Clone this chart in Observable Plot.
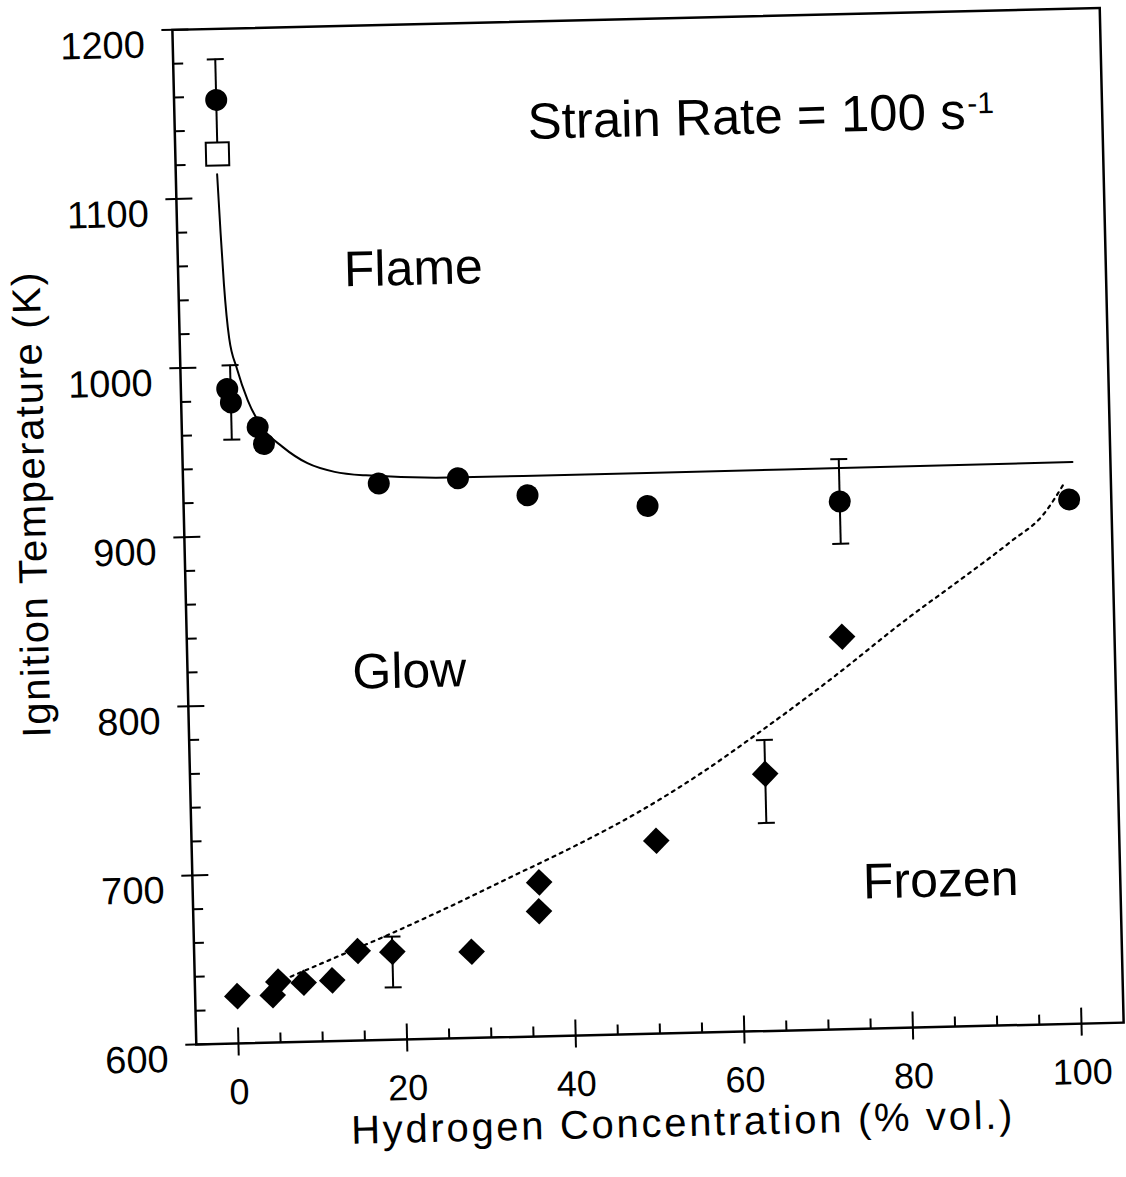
<!DOCTYPE html>
<html>
<head>
<meta charset="utf-8">
<script src="https://cdn.jsdelivr.net/npm/d3@7"></script>
<script src="https://cdn.jsdelivr.net/npm/@observablehq/plot@0.6"></script>
<style>
  html, body { margin: 0; padding: 0; background: #ffffff; }
  #chart svg { display: block; overflow: visible; transform: rotate(-1.35deg); transform-origin: 647.5px 525.75px; }
</style>
</head>
<body>
<div id="chart"></div>
<script>
// ---- data ----
// Flame ignition (filled circles)
const flameX = [0, 0.5, 0.9, 4.0, 4.7, 18.2, 27.6, 35.8, 50, 72.8, 100];
const flameT = [1158, 987, 979, 964, 954, 929, 931, 920, 912, 912, 910];
// Open square
const squareX = [0];
const squareT = [1126];
// Glow ignition (filled diamonds)
const glowX = [0, 4.2, 4.9, 7.9, 11.3, 14.4, 18.5, 27.9, 36.0, 36.1, 50.1, 63.2, 72.7];
const glowT = [628, 628, 636, 635, 636, 653, 652, 651, 674, 691, 714, 752, 832];
// Error bars
const errX = [0, 0.9, 72.8, 18.5, 63.2];
const errLow = [1130, 957, 887, 631, 723];
const errHigh = [1182, 1001, 937, 661, 772];
// Flame boundary (solid curve)
const flameCurveX = [-0.1, 0.15, 0.4, 0.87, 1.7, 2.9, 4.5, 6.9, 9.8, 13, 16.7, 28, 50, 73, 100.5];
const flameCurveT = [1114, 1079, 1049, 1017, 999, 980, 964, 952, 942, 936.5, 934, 931.5, 931.5, 931.7, 932];
// Glow boundary (dotted curve)
const glowCurveX = [5.5, 11, 17.5, 25, 32.5, 40, 48, 55.5, 63, 71.5, 80, 88, 93, 97, 99.5];
const glowCurveT = [637, 648, 661, 677, 694, 711, 731, 753, 778, 808, 840, 868, 886, 902, 920];
// Axes
const xTicks = [0, 20, 40, 60, 80, 100];
const xMinor = [5, 10, 15, 25, 30, 35, 45, 50, 55, 65, 70, 75, 85, 90, 95];
const yTicks = [600, 700, 800, 900, 1000, 1100, 1200];
const yMinor = [620, 640, 660, 680, 720, 740, 760, 780, 820, 840, 860, 880, 920, 940, 960, 980, 1020, 1040, 1060, 1080, 1120, 1140, 1160, 1180];
const xDomain = [-5, 105];
const yDomain = [600, 1200];
const xTitle = "Hydrogen Concentration (% vol.)";
const yTitle = "Ignition Temperature (K)";
// Annotations
const regionNames = ["Flame", "Glow", "Frozen"];
const regionX = [22.9, 21.3, 83.7];
const regionT = [1046, 808, 677];
const noteText = ["Strain Rate = 100 s"];
const noteSup = ["-1"];
const noteX = [88.8];
const noteT = [1130.6];

// ---- build tables ----
const circles = flameX.map((x, i) => ({x, y: flameT[i]}));
const squares = squareX.map((x, i) => ({x, y: squareT[i]}));
const diamonds = glowX.map((x, i) => ({x, y: glowT[i]}));
const errs = errX.map((x, i) => ({x, y1: errLow[i], y2: errHigh[i]}));
const caps = errX.flatMap((x, i) => [{x, y: errLow[i]}, {x, y: errHigh[i]}]);
const flameCurve = flameCurveX.map((x, i) => ({x, y: flameCurveT[i]}));
const glowCurve = glowCurveX.map((x, i) => ({x, y: glowCurveT[i]}));
const regions = regionNames.map((t, i) => ({t, x: regionX[i], y: regionT[i]}));

// custom line symbols for ticks and caps
const vLine = (down, up) => ({draw(ctx) { ctx.moveTo(0, down); ctx.lineTo(0, -up); }});
const hLine = (left, right) => ({draw(ctx) { ctx.moveTo(-left, 0); ctx.lineTo(right, 0); }});
const plain = d => String(d);

const svg = Plot.plot({
  width: 1126,
  height: 1177,
  marginLeft: 183.7,
  marginTop: 18.3,
  marginRight: 14.7,
  marginBottom: 143.8,
  style: {fontFamily: "'Liberation Sans', Arial, Helvetica, sans-serif", fontSize: "36px", background: "white", color: "black", overflow: "visible"},
  x: {domain: xDomain},
  y: {domain: yDomain},
  marks: [
    Plot.axisX(xTicks, {anchor: "bottom", tickSize: 0, tickPadding: 35, fontSize: 36, label: null, tickFormat: plain}),
    Plot.axisY(yTicks, {anchor: "left", tickSize: 0, tickPadding: 28, fontSize: 38, label: null, lineAnchor: "top", tickFormat: plain}),
    // ticks
    Plot.dot(xTicks, {x: d => d, y: yDomain[0], symbol: vLine(12, 16), stroke: "black", strokeWidth: 2, fill: "none"}),
    Plot.dot(xMinor, {x: d => d, y: yDomain[0], symbol: vLine(0, 10), stroke: "black", strokeWidth: 2, fill: "none"}),
    Plot.dot(yTicks, {x: xDomain[0], y: d => d, symbol: hLine(11, 16), stroke: "black", strokeWidth: 2, fill: "none"}),
    Plot.dot(yMinor, {x: xDomain[0], y: d => d, symbol: hLine(0, 10), stroke: "black", strokeWidth: 2, fill: "none"}),
    Plot.frame({stroke: "black", strokeWidth: 2.5}),
    // curves
    Plot.line(flameCurve, {x: "x", y: "y", curve: "monotone-x", stroke: "black", strokeWidth: 2}),
    Plot.line(glowCurve, {x: "x", y: "y", curve: "monotone-x", stroke: "black", strokeWidth: 2.2, strokeDasharray: "3,5"}),
    // error bars
    Plot.ruleX(errs, {x: "x", y1: "y1", y2: "y2", stroke: "black", strokeWidth: 2}),
    Plot.dot(caps, {x: "x", y: "y", symbol: hLine(8.5, 8.5), stroke: "black", strokeWidth: 2, fill: "none"}),
    // points
    Plot.dot(circles, {x: "x", y: "y", r: 11, fill: "black", stroke: "none"}),
    Plot.dot(diamonds, {x: "x", y: "y", r: 12, symbol: "diamond2", fill: "black", stroke: "none"}),
    Plot.dot(squares, {x: "x", y: "y", r: 13, symbol: "square", fill: "white", stroke: "black", strokeWidth: 2}),
    // annotations
    Plot.text(regions, {x: "x", y: "y", text: "t", fontSize: 50, lineAnchor: "bottom", textAnchor: "middle", fill: "black"}),
    Plot.text(noteText, {x: noteX, y: noteT, fontSize: 51, lineAnchor: "bottom", textAnchor: "end", fill: "black"}),
    Plot.text(noteSup, {x: noteX, y: noteT, fontSize: 30, lineAnchor: "bottom", textAnchor: "start", dx: 2, dy: -15, fill: "black"}),
    // axis titles
    Plot.text([xTitle], {frameAnchor: "bottom", dx: 21, dy: 103, lineAnchor: "bottom", textAnchor: "middle", fontSize: 40, fill: "black"}),
    Plot.text([yTitle], {frameAnchor: "left", rotate: -90, dx: -138.5, dy: -36.6, lineAnchor: "bottom", textAnchor: "middle", fontSize: 40, fill: "black"})
  ]
});

d3.select(svg).selectAll("text").filter(function() { return this.textContent === xTitle; }).style("letter-spacing", "2.7px");
d3.select(svg).selectAll("text").filter(function() { return this.textContent === yTitle; }).style("letter-spacing", "1.6px");

document.getElementById("chart").appendChild(svg);
</script>
</body>
</html>
